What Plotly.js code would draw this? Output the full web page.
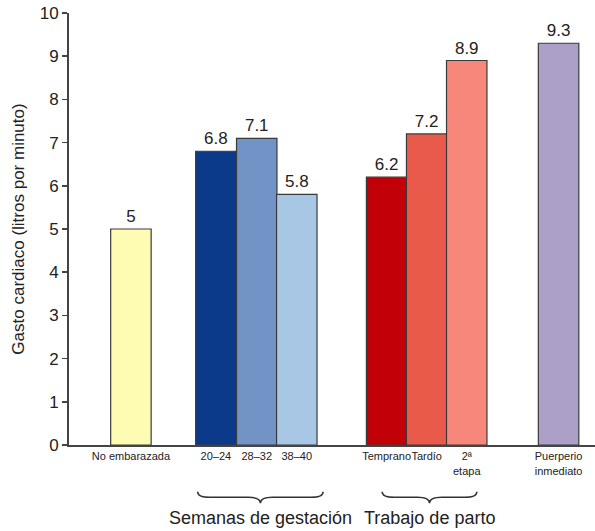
<!DOCTYPE html>
<html>
<head>
<meta charset="utf-8">
<script src="https://cdn.plot.ly/plotly-3.0.1.min.js"></script>
<style>html,body{margin:0;padding:0;background:#fff;}#chart{width:595px;height:531px;}</style>
</head>
<body>
<div id="chart"></div>
<script>
// ---- data ----
const categories = ["No embarazada", "20–24", "28–32", "38–40", "Temprano", "Tardío", "2ª<br>etapa", "Puerperio<br>inmediato"];
const values = [5, 6.8, 7.1, 5.8, 6.2, 7.2, 8.9, 9.3];
const groupLabels = ["Semanas de gestación", "Trabajo de parto"];
const yTicks = [0, 1, 2, 3, 4, 5, 6, 7, 8, 9, 10];
const yTitle = "Gasto cardiaco (litros por minuto)";

// ---- layout (positions / styles) ----
const xPos = [1.53, 3.63, 4.64, 5.63, 7.85, 8.84, 9.83, 12.1];
const colors = ["#fdfcb2", "#0b3a8b", "#7193c5", "#a7c7e4", "#c20008", "#ea5a4b", "#f8877b", "#aca0c9"];
const groupSpans = [[3.18, 6.28], [7.74, 10.08]];

function brace(x1, x2) {
  const y0 = -0.108, ym = -0.121, yt = -0.135, r = 0.3;
  const xm = (x1 + x2) / 2;
  return `M ${x1},${y0} Q ${x1},${ym} ${x1 + r},${ym} L ${xm - r},${ym} Q ${xm},${ym} ${xm},${yt} Q ${xm},${ym} ${xm + r},${ym} L ${x2 - r},${ym} Q ${x2},${ym} ${x2},${y0}`;
}

const trace = {
  type: "bar",
  x: xPos,
  y: values,
  width: 1,
  text: values.map(v => String(v)),
  textposition: "outside",
  cliponaxis: false,
  textfont: {family: "Liberation Sans, Arial, sans-serif", size: 17, color: "#222"},
  marker: {color: colors, line: {color: "#3a3a3a", width: 1.2}},
  hoverinfo: "none"
};

const layout = {
  width: 595, height: 531,
  margin: {l: 69, r: 0, t: 13, b: 86},
  paper_bgcolor: "#fff", plot_bgcolor: "#fff",
  showlegend: false,
  font: {family: "Liberation Sans, Arial, sans-serif", color: "#222"},
  xaxis: {
    range: [0, 13], showgrid: false, zeroline: false,
    showline: true, linecolor: "#444", linewidth: 2,
    tickmode: "array", tickvals: xPos, ticktext: categories,
    ticks: "", tickfont: {size: 11, color: "#222"}, tickangle: 0,
    fixedrange: true
  },
  yaxis: {
    range: [0, 10], showgrid: false, zeroline: false,
    showline: true, linecolor: "#444", linewidth: 2,
    tickmode: "array", tickvals: yTicks,
    ticks: "outside", ticklen: 5, tickwidth: 1.5, tickcolor: "#444",
    tickfont: {size: 17, color: "#222"},
    title: {text: yTitle, font: {size: 17, color: "#222"}, standoff: 11},
    fixedrange: true
  },
  shapes: groupSpans.map(s => ({
    type: "path", xref: "x", yref: "paper", path: brace(s[0], s[1]),
    line: {color: "#333", width: 1.5}
  })),
  annotations: groupLabels.map((t, i) => ({
    text: t, xref: "x", yref: "paper",
    x: (groupSpans[i][0] + groupSpans[i][1]) / 2, y: -0.169,
    xanchor: "center", yanchor: "middle", showarrow: false,
    font: {size: 18, color: "#222"}
  }))
};

Plotly.newPlot("chart", [trace], layout, {displayModeBar: false, staticPlot: true});
</script>
</body>
</html>
